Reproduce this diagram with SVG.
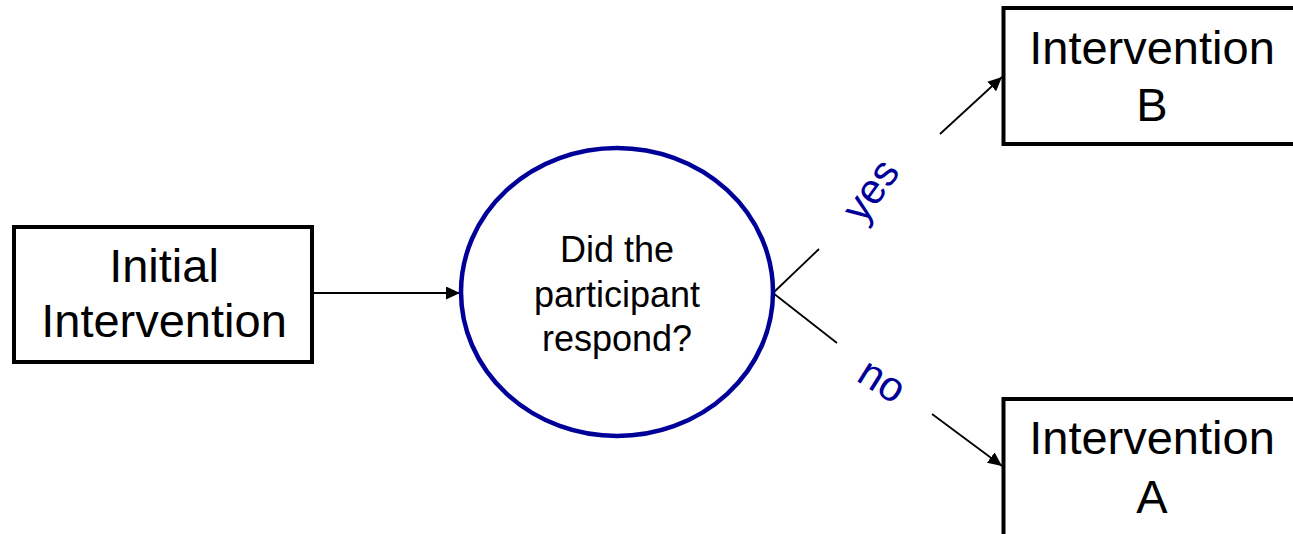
<svg xmlns="http://www.w3.org/2000/svg" width="1293" height="534" viewBox="0 0 1293 534">
  <style>
    .box { fill: #ffffff; stroke: #000000; stroke-width: 4; }
    .decision { fill: #ffffff; stroke: #000099; stroke-width: 4.5; }
    .link { fill: none; stroke: #000000; stroke-width: 1.8; }
    .big { font-family: "Liberation Sans", Arial, sans-serif; font-size: 47px; fill: #000000; text-anchor: middle; }
    .mid { font-family: "Liberation Sans", Arial, sans-serif; font-size: 36px; fill: #000000; text-anchor: middle; }
    .branch { font-family: "Liberation Sans", Arial, sans-serif; font-size: 42px; fill: #000099; text-anchor: middle; }
  </style>
  <defs>
    <marker id="arrow" markerUnits="userSpaceOnUse" markerWidth="15" markerHeight="14" refX="14" refY="6.5" orient="auto">
      <path d="M0,0 L14,6.5 L0,13 Z" fill="#000000"/>
    </marker>
  </defs>
  <rect width="1293" height="534" fill="#ffffff"/>

  <g id="connectors">
    <line class="link" x1="312" y1="293" x2="460" y2="293" marker-end="url(#arrow)"/>
    <line class="link" x1="773" y1="293" x2="819" y2="249"/>
    <line class="link" x1="773" y1="293" x2="837" y2="343"/>
    <line class="link" x1="940" y1="134" x2="1002" y2="77" marker-end="url(#arrow)"/>
    <line class="link" x1="932" y1="414" x2="1002" y2="466" marker-end="url(#arrow)"/>
    <text class="branch" transform="translate(877,195) rotate(-54)" y="6">yes</text>
    <text class="branch" transform="translate(880,384) rotate(32)" y="10">no</text>
  </g>

  <g id="initial-intervention">
    <rect class="box" x="14" y="227" width="298" height="135"/>
    <text class="big" x="164" y="282">Initial</text>
    <text class="big" x="164" y="337">Intervention</text>
  </g>

  <g id="response-check">
    <ellipse class="decision" cx="617" cy="292" rx="156" ry="144"/>
    <text class="mid" x="617" y="262">Did the</text>
    <text class="mid" x="617" y="307">participant</text>
    <text class="mid" x="617" y="351">respond?</text>
  </g>

  <g id="intervention-b">
    <rect class="box" x="1003.5" y="8" width="320" height="136"/>
    <text class="big" x="1152" y="64">Intervention</text>
    <text class="big" x="1152" y="121">B</text>
  </g>

  <g id="intervention-a">
    <rect class="box" x="1003.5" y="399" width="320" height="200"/>
    <text class="big" x="1152" y="454">Intervention</text>
    <text class="big" x="1152" y="513">A</text>
  </g>
</svg>
